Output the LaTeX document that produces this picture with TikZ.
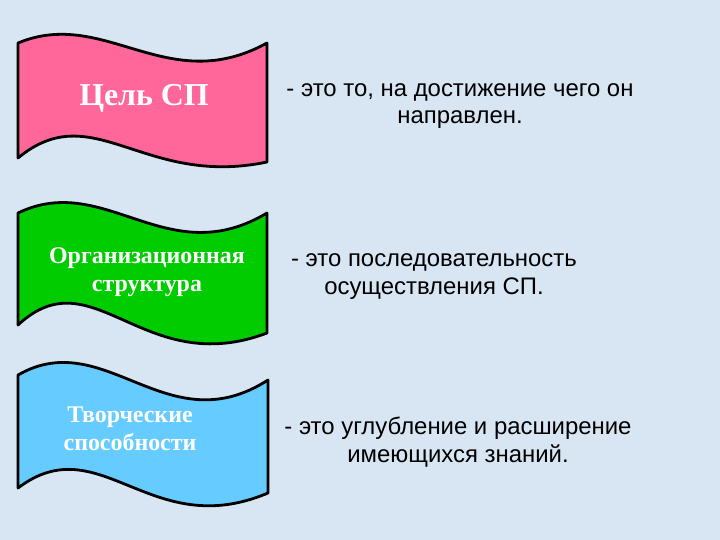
\documentclass[tikz,border=0pt]{standalone}
\usepackage{fontspec}
\setmainfont{Liberation Serif}
\newfontfamily\arialf{Liberation Sans}
\definecolor{bgblue}{RGB}{216,229,243}
\definecolor{flagpink}{RGB}{255,102,153}
\definecolor{flaggreen}{RGB}{0,204,0}
\definecolor{flagblue}{RGB}{102,204,255}
\tikzset{
  flagshape/.style={draw=black,line width=2.8bp,line join=round},
  flagtext/.style={text=white,font=\bfseries\fontsize{24}{28}\selectfont,align=center,inner sep=0pt,anchor=base},
  desctext/.style={text=black,font=\arialf\fontsize{24}{28}\selectfont,align=center,inner sep=0pt,anchor=base}
}
\begin{document}
\begin{tikzpicture}[x=1bp,y=-1bp]
\fill[bgblue] (0,0) rectangle (720,540);
\useasboundingbox (0,0) rectangle (720,540);
% flag 1
\draw[flagshape,fill=flagpink] (18,43) .. controls (105,7) and (167,98) .. (267,43)
  -- (267,162) .. controls (143,188) and (93,96) .. (18,158) -- cycle;
% flag 2
\draw[flagshape,fill=flaggreen] (18,213) .. controls (105,171) and (167,273) .. (267,213)
  -- (267,333) .. controls (143,380) and (93,255) .. (18,325) -- cycle;
% flag 3
\draw[flagshape,fill=flagblue] (18,375) .. controls (105,325) and (167,445) .. (268,380)
  -- (268,493) .. controls (150,543) and (100,426) .. (18,488) -- cycle;
% flag texts
\node[flagtext,font=\bfseries\fontsize{32}{36}\selectfont] (t1) at (144,106) {Цель СП};
\node[flagtext] (t2) at (147,291) {Организационная\\структура};
\node[flagtext] (t3) at (130,450) {Творческие\\способности};
% descriptions
\node[desctext] (d1) at (460,124) {- это то, на достижение чего он\\направлен.};
\node[desctext] (d2) at (434,294) {- это последовательность\\осуществления СП.};
\node[desctext] (d3) at (458,462) {- это углубление и расширение\\имеющихся знаний.};
\end{tikzpicture}
\end{document}
